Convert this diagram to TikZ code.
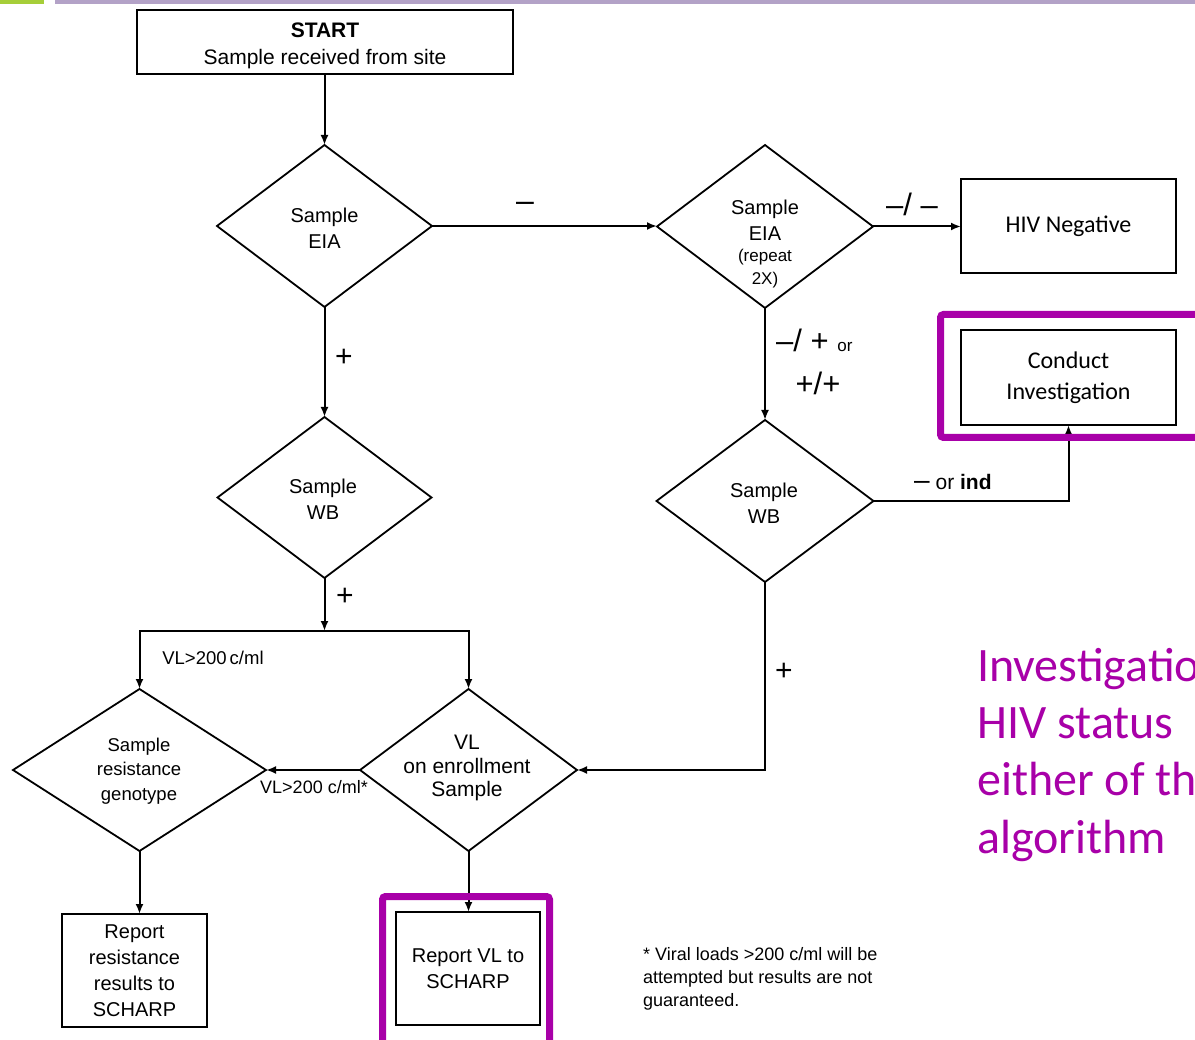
\documentclass[tikz,border=0pt]{standalone}
\usepackage{fontspec}
\setmainfont{Liberation Sans}
\newfontfamily\calfont{Carlito}
\usetikzlibrary{shapes.geometric,arrows.meta}
\definecolor{hl}{RGB}{168,0,168}
\definecolor{topbar}{RGB}{179,162,199}
\definecolor{topgreen}{RGB}{166,206,57}
\begin{document}
\begin{tikzpicture}[x=1pt,y=-1pt,
  shp/.style={draw=black, line width=1.8pt, inner sep=0pt, outer sep=0pt},
  boxnode/.style={shp, rectangle, align=center},
  dia/.style={shp, diamond},
  txt/.style={align=center, inner sep=0pt, font=\fontsize{20}{26}\selectfont},
  lbl/.style={inner sep=0pt},
  conn/.style={line width=2pt, draw=black},
  arr/.style={conn, -{Latex[length=10pt,width=8pt]}},
  hlbox/.style={draw=hl, line width=7pt, rounded corners=3pt}
]
\useasboundingbox (0,0) rectangle (1195,1040);
\clip (0,0) rectangle (1195,1040);
% top bars
\fill[topgreen] (0,0) rectangle (44,4.5);
\fill[topbar] (55,0) rectangle (1195,4.5);

% boxes
\node[boxnode, minimum width=376pt, minimum height=64pt] (start) at (325,42) {};
\node[txt, font=\fontsize{21}{27}\selectfont] (starttxt) at (325,46) {\textbf{START}\\Sample received from site};
\node[boxnode, minimum width=215pt, minimum height=94pt, font=\calfont\fontsize{24}{31}\selectfont] (neg) at (1068.5,226) {HIV Negative};
\node[boxnode, minimum width=215pt, minimum height=95pt, font=\calfont\fontsize{24}{31}\selectfont] (conduct) at (1068.5,377.5) {Conduct\\Investigation};
\node[boxnode, minimum width=145pt, minimum height=113pt, font=\fontsize{20}{26}\selectfont] (repres) at (134.5,970.5) {Report\\resistance\\results to\\SCHARP};
\node[boxnode, minimum width=144pt, minimum height=113pt, font=\fontsize{20}{26}\selectfont] (repvl) at (468,968.5) {Report VL to\\SCHARP};

% diamonds
\node[dia, minimum width=215pt, minimum height=162pt] (d1) at (324.5,226) {};
\node[dia, minimum width=216pt, minimum height=163pt] (d2) at (765,226.5) {};
\node[dia, minimum width=214pt, minimum height=161pt] (wb1) at (324.5,497.5) {};
\node[dia, minimum width=217pt, minimum height=162pt] (wb2) at (765,501) {};
\node[dia, minimum width=253pt, minimum height=162pt] (geno) at (139.5,770) {};
\node[dia, minimum width=217pt, minimum height=162pt] (vl) at (468.5,770) {};

% diamond texts
\node[txt] (t1) at (324.5,228) {Sample\\EIA};
\node[txt, font=\fontsize{20}{26}\selectfont] (t2) at (765,220) {Sample\\EIA};
\node[txt, font=\fontsize{17}{23}\selectfont] (t2b) at (765,269) {(repeat\\2X)};
\node[txt] (t3) at (323,499) {Sample\\WB};
\node[txt] (t4) at (764,503) {Sample\\WB};
\node[txt, font=\fontsize{18.5}{24.5}\selectfont] (t5) at (139,771) {Sample\\resistance\\genotype};
\node[txt, font=\fontsize{21}{23.5}\selectfont] (t6) at (467,768) {VL\\on enrollment\\Sample};

% connectors
\draw[arr] (start.south -| d1.north) -- (d1.north);
\draw[arr] (d1.east) -- (d1.east -| d2.west);
\draw[arr] (d2.east) -- (d2.east -| neg.west);
\draw[arr] (d1.south) -- (wb1.north);
\draw[arr] (d2.south) -- (wb2.north);
\draw[arr] (wb2.east) -| (conduct.south);
\coordinate (j1) at (324.5,631);
\draw[arr] (wb1.south) -- (j1);
\draw[arr] (j1) -| (geno.north);
\draw[arr] (j1) -| (vl.north);
\draw[arr] (wb2.south) |- (vl.east);
\draw[arr] (vl.west) -- (geno.east);
\draw[arr] (geno.south) -- (geno.south |- repres.north);
\draw[arr] (vl.south) -- (vl.south |- repvl.north);

% connector labels
\node[lbl, font=\fontsize{32}{34}\selectfont] (l1) at (525,207) {–};
\node[lbl, font=\fontsize{31}{33}\selectfont] (l2) at (912,204) {–/ –};
\node[lbl, anchor=base west] (l3) at (776,352) {\fontsize{31}{33}\selectfont –/ + \fontsize{17}{20}\selectfont or};
\node[lbl, font=\fontsize{31}{33}\selectfont] (l4) at (818,383) {+/+};
\node[lbl, anchor=base west, font=\fontsize{21}{24}\selectfont] (l5) at (914,490) {{\fontsize{28}{28}\selectfont –} or \textbf{ind}};
\node[lbl, font=\fontsize{30}{32}\selectfont] (l6) at (344,358) {+};
\node[lbl, font=\fontsize{30}{32}\selectfont] (l7) at (345,597) {+};
\node[lbl, font=\fontsize{30}{32}\selectfont] (l8) at (784,672) {+};
\node[lbl, font=\fontsize{18.5}{20}\selectfont] (l9) at (213,658) {VL>200\,c/ml};
\node[lbl, font=\fontsize{18}{20}\selectfont] (l10) at (314,787) {VL>200 c/ml*};

% footnote
\node[lbl, anchor=base west, font=\fontsize{18}{20}\selectfont] (f1) at (643,960) {* Viral loads >200 c/ml will be};
\node[lbl, anchor=base west, font=\fontsize{18}{20}\selectfont] (f2) at (643,983) {attempted but results are not};
\node[lbl, anchor=base west, font=\fontsize{18}{20}\selectfont] (f3) at (643,1006) {guaranteed.};

% highlight frames
\draw[hlbox] (940.5,314.5) rectangle (1210,437.5);
\draw[hlbox] (382.5,896.5) rectangle (549.5,1055);

% purple side text
\node[lbl, anchor=base west, text=hl, font=\calfont\fontsize{48}{57}\selectfont] (p1) at (977,681) {Investigation};
\node[lbl, anchor=base west, text=hl, font=\calfont\fontsize{48}{57}\selectfont] (p2) at (977,738) {HIV status};
\node[lbl, anchor=base west, text=hl, font=\calfont\fontsize{48}{57}\selectfont] (p3) at (977,795) {either of the};
\node[lbl, anchor=base west, text=hl, font=\calfont\fontsize{48}{57}\selectfont] (p4) at (977,853) {algorithm};
\end{tikzpicture}
\end{document}
